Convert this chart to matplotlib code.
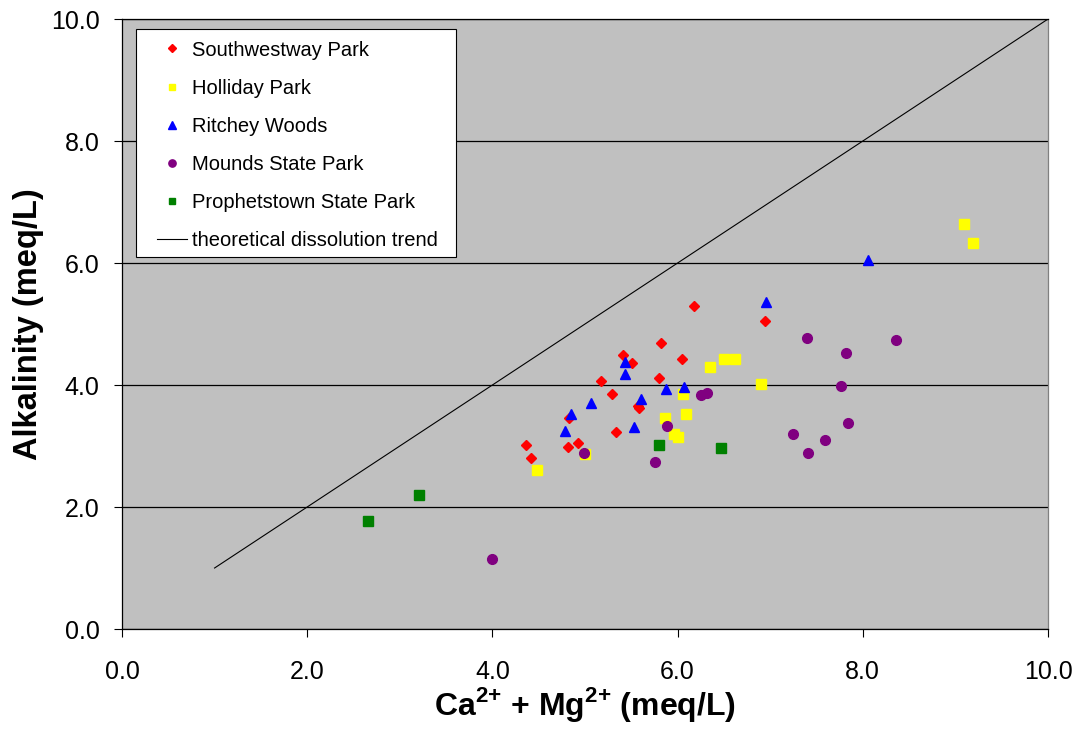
import matplotlib
matplotlib.use("Agg")
import matplotlib.pyplot as plt
from matplotlib.patches import Rectangle

plt.rcParams['font.family'] = ['Liberation Sans', 'DejaVu Sans']
plt.rcParams['mathtext.fontset'] = 'custom'
plt.rcParams['mathtext.rm'] = 'Liberation Sans'
plt.rcParams['mathtext.bf'] = 'Liberation Sans:bold'

# Ca + Mg (meq/L) vs alkalinity (meq/L) per site
sw_x = [4.36, 4.42, 4.82, 4.83, 4.92, 5.17, 5.29, 5.33, 5.41, 5.51, 5.57, 5.58, 5.80, 5.82, 6.05, 6.18, 6.94]
sw_y = [3.02, 2.80, 2.99, 3.46, 3.05, 4.07, 3.86, 3.23, 4.49, 4.36, 3.66, 3.62, 4.12, 4.69, 4.43, 5.29, 5.05]

hp_x = [4.48, 5.00, 5.86, 5.96, 6.00, 6.06, 6.09, 6.35, 6.50, 6.62, 6.90, 9.09, 9.19]
hp_y = [2.61, 2.87, 3.46, 3.20, 3.14, 3.86, 3.52, 4.30, 4.43, 4.43, 4.01, 6.64, 6.33]

rw_x = [4.78, 4.85, 5.07, 5.43, 5.43, 5.53, 5.61, 5.87, 6.07, 6.96, 8.06]
rw_y = [3.25, 3.52, 3.70, 4.38, 4.18, 3.32, 3.77, 3.93, 3.96, 5.36, 6.05]

ms_x = [4.00, 4.99, 5.76, 5.89, 6.25, 6.32, 7.25, 7.40, 7.41, 7.59, 7.77, 7.82, 7.84, 8.36]
ms_y = [1.15, 2.88, 2.73, 3.33, 3.83, 3.87, 3.20, 4.77, 2.89, 3.10, 3.99, 4.52, 3.38, 4.73]

ps_x = [2.66, 3.21, 5.80, 6.47]
ps_y = [1.77, 2.20, 3.02, 2.97]

trend_x = [1.0, 10.0]
trend_y = [1.0, 10.0]

ticks = [0, 2, 4, 6, 8, 10]
tick_labels = ['0.0', '2.0', '4.0', '6.0', '8.0', '10.0']

fig = plt.figure(figsize=(10.85, 7.35), dpi=100)
ax = fig.add_axes([0.1124, 0.1442, 0.8535, 0.8299])
ax.set_facecolor('#C0C0C0')

ax.plot(sw_x, sw_y, 'D', color='#FF0000', ms=5.0, mec='#FF0000', label='Southwestway Park', zorder=3)
ax.plot(hp_x, hp_y, 's', color='#FFFF00', ms=6.5, mec='#FFFF00', label='Holliday Park', zorder=3)
ax.plot(rw_x, rw_y, '^', color='#0000FF', ms=7.0, mec='#0000FF', label='Ritchey Woods', zorder=3)
ax.plot(ms_x, ms_y, 'o', color='#800080', ms=7.0, mec='#800080', label='Mounds State Park', zorder=3)
ax.plot(ps_x, ps_y, 's', color='#008000', ms=6.5, mec='#008000', label='Prophetstown State Park', zorder=3)
ax.plot(trend_x, trend_y, '-', color='black', lw=0.8, label='theoretical dissolution trend', zorder=2)

ax.set_xlim(0, 10)
ax.set_ylim(0, 10)
ax.set_xticks(ticks)
ax.set_yticks(ticks)
ax.set_xticklabels(tick_labels)
ax.set_yticklabels(tick_labels)
ax.tick_params(labelsize=18, direction='out', length=6, width=0.8, color='black')
ax.tick_params(axis='x', pad=16)
ax.tick_params(axis='y', pad=10)
ax.yaxis.grid(True, color='black', lw=0.9)
ax.set_axisbelow(True)

for side in ['left', 'bottom', 'top']:
    ax.spines[side].set_color('black')
    ax.spines[side].set_linewidth(0.9)
ax.spines['right'].set_color('#808080')
ax.spines['right'].set_linewidth(0.9)

ax.set_xlabel('Ca$^{\\mathbf{2{+}}}$ + Mg$^{\\mathbf{2{+}}}$ (meq/L)', fontsize=23, fontweight='bold', labelpad=1)
ax.set_ylabel('Alkalinity (meq/L)', fontsize=23.5, fontweight='bold', labelpad=5)

# legend box drawn separately so its padding can be set per side
ax.add_patch(Rectangle((0.0151, 0.6098), 0.3456, 0.3738, transform=ax.transAxes,
                       facecolor='white', edgecolor='black', lw=0.8, zorder=4))
leg = ax.legend(loc='upper left', bbox_to_anchor=(0.0378, 0.9648), fontsize=14.5, frameon=False,
                markerscale=0.75, handlelength=1.5, labelspacing=0.95, borderpad=0,
                borderaxespad=0, handletextpad=0.25)
leg.set_zorder(5)

fig.savefig('out.png', dpi=100)
